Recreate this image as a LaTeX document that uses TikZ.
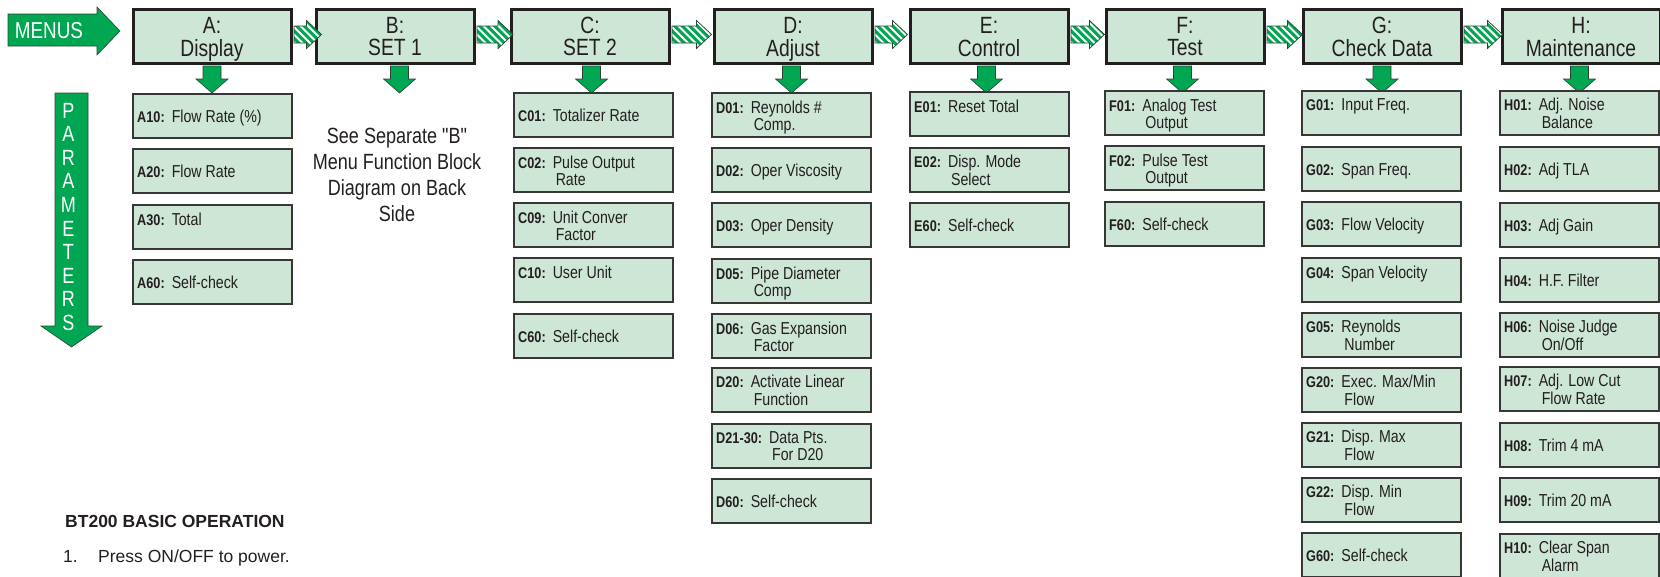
\documentclass[tikz,border=0pt]{standalone}
\usepackage{fontspec}
\setmainfont{Liberation Sans}
\newfontfamily\narrow{Liberation Sans}[FakeStretch=0.82]
\usetikzlibrary{calc}
\definecolor{boxfill}{RGB}{205,230,213}
\definecolor{agreen}{RGB}{0,166,81}
\definecolor{hline}{RGB}{35,31,32}
\definecolor{pline}{RGB}{55,55,55}
\definecolor{aline}{RGB}{40,70,50}
\tikzset{
  hbox/.style={draw=hline, line width=3pt, fill=boxfill, anchor=north west,
    minimum width=158pt, minimum height=54pt, inner sep=0pt},
  htext/.style={anchor=base, inner sep=0pt, text=hline,
    font=\narrow\fontsize{23.5}{20}\selectfont},
  pbox/.style={draw=pline, line width=1.6pt, fill=boxfill, anchor=north west,
    minimum width=159.4pt, minimum height=44.4pt, inner sep=0pt},
  ptext/.style={anchor=west, inner sep=0pt, text=hline,
    font=\narrow\fontsize{17.3}{17}\selectfont},
  arrowfill/.style={fill=agreen, draw=aline, line width=0.6pt},
  stripe/.style={white, line width=2.1pt},
}
\newcommand{\codef}{\narrow\bfseries\fontsize{15.5}{17}\selectfont}
\newcommand{\nl}{\\\hspace*{3pt}}
\newcommand{\pb}[5]{%
  \node[pbox] (#1) at (#2,#3) {};
  \node[ptext] (#1t) at ([xshift=5pt,yshift=-3pt]#1.west)
    {{\codef #4}\hspace{7pt}\begin{tabular}[t]{@{}l@{}}#5\end{tabular}};%
}
\newcommand{\hb}[3]{%
  \node[hbox] (#1) at (#2+1.5,7.5) {};
  \node[htext] (#1t) at ([yshift=-25.5pt]#1.north)
    {\begin{tabular}[t]{@{}c@{}}#1:\\#3\end{tabular}};%
}
\newcommand{\sarpath}[3]{([xshift=1.5pt,yshift=10pt]#1.east)
  -- ([xshift=#3pt-15pt,yshift=10pt]#2.west)
  -- ([xshift=#3pt-15pt,yshift=15.5pt]#2.west)
  -- ([xshift=#3pt,yshift=1.5pt]#2.west)
  -- ([xshift=#3pt-15pt,yshift=-12.5pt]#2.west)
  -- ([xshift=#3pt-15pt,yshift=-7pt]#2.west)
  -- ([xshift=1.5pt,yshift=-7pt]#1.east) -- cycle}
\newcommand{\sarrow}[3]{%
  \begin{scope}
    \clip \sarpath{#1}{#2}{#3};
    \fill[agreen] ([xshift=-5pt,yshift=20pt]#1.east) rectangle ([xshift=20pt,yshift=-20pt]#2.west);
    \foreach \k in {-6,...,9}
      \draw[stripe] ([xshift=\k*7.5pt,yshift=18pt]#1.east) -- ++(40,40);
  \end{scope}
  \draw[aline, line width=0.7pt] \sarpath{#1}{#2}{#3};%
}
\newcommand{\darrow}[2]{%
  \draw[arrowfill] ([xshift=#2pt-9pt,yshift=-1.5pt]#1.south)
    -- ([xshift=#2pt-9pt,yshift=-14.5pt]#1.south)
    -- ([xshift=#2pt-16pt,yshift=-14.5pt]#1.south)
    -- ([xshift=#2pt,yshift=-28.5pt]#1.south)
    -- ([xshift=#2pt+16pt,yshift=-14.5pt]#1.south)
    -- ([xshift=#2pt+9pt,yshift=-14.5pt]#1.south)
    -- ([xshift=#2pt+9pt,yshift=-1.5pt]#1.south) -- cycle;%
}
\begin{document}
\begin{tikzpicture}[x=1pt,y=-1pt]
\useasboundingbox (0,0) rectangle (1660,576);
% MENUS arrow
\draw[arrowfill] (8,14) -- (97,14) -- (97,7) -- (120,31) -- (97,55) -- (97,46) -- (8,46) -- cycle;
\node[inner sep=0pt, text=white, font=\narrow\fontsize{23}{23}\selectfont] (menus) at (49,31) {MENUS};
% PARAMETERS arrow
\draw[arrowfill] (55,93) -- (88,93) -- (88,326) -- (102,326) -- (71.5,347) -- (41,326) -- (55,326) -- cycle;
\node[anchor=base, inner sep=0pt, text=white, font=\narrow\fontsize{22}{23.6}\selectfont] (params) at (68.5,118)
  {\begin{tabular}[t]{@{}c@{}}P\\A\\R\\A\\M\\E\\T\\E\\R\\S\end{tabular}};
% header boxes
\hb{A}{130}{Display}
\hb{B}{313}{SET 1}
\hb{C}{508}{SET 2}
\hb{D}{711}{Adjust}
\hb{E}{907}{Control}
\hb{F}{1103}{Test}
\hb{G}{1300}{Check Data}
\hb{H}{1499}{Maintenance}
% striped arrows
\sarrow{A}{B}{7}
\sarrow{B}{C}{3.5}
\sarrow{C}{D}{-1}
\sarrow{D}{E}{-1}
\sarrow{E}{F}{0}
\sarrow{F}{G}{1}
\sarrow{G}{H}{2}
% down arrows
\darrow{A}{0}
\darrow{B}{4.5}
\darrow{C}{1.5}
\darrow{D}{-1.5}
\darrow{E}{-2.5}
\darrow{F}{-2.5}
\darrow{G}{0}
\darrow{H}{-1.5}
% A column
\pb{A10}{132}{93}{A10:}{Flow Rate (\%)}
\pb{A20}{132}{148}{A20:}{Flow Rate}
\pb{A30}{132}{204}{A30:}{Total\\ \mbox{}}
\pb{A60}{132}{259}{A60:}{Self-check}
% B note
\node[anchor=base, inner sep=0pt, text=hline, font=\narrow\fontsize{22}{26.2}\selectfont] (bnote) at (397,143)
  {\begin{tabular}[t]{@{}c@{}}See Separate "B"\\Menu Function Block\\Diagram on Back\\Side\end{tabular}};
% C column
\pb{C01}{513}{92}{C01:}{Totalizer Rate}
\pb{C02}{513}{147}{C02:}{Pulse Output\nl Rate}
\pb{C09}{513}{202}{C09:}{Unit Conver\nl Factor}
\pb{C10}{513}{257}{C10:}{User Unit\\ \mbox{}}
\pb{C60}{513}{313}{C60:}{Self-check}
% D column
\pb{D01}{711}{92}{D01:}{Reynolds \#\nl Comp.}
\pb{D02}{711}{147}{D02:}{Oper Viscosity}
\pb{D03}{711}{202}{D03:}{Oper Density}
\pb{D05}{711}{258}{D05:}{Pipe Diameter\nl Comp}
\pb{D06}{711}{313}{D06:}{Gas Expansion\nl Factor}
\pb{D20}{711}{367}{D20:}{Activate Linear\nl Function}
\pb{D21}{711}{423}{D21-30:}{Data Pts.\nl For D20}
\pb{D60}{711}{478}{D60:}{Self-check}
% E column
\pb{E01}{909}{91}{E01:}{Reset Total\\ \mbox{}}
\pb{E02}{909}{147}{E02:}{Disp. Mode\nl Select}
\pb{E60}{909}{202}{E60:}{Self-check}
% F column
\pb{F01}{1104}{90}{F01:}{Analog Test\nl Output}
\pb{F02}{1104}{145}{F02:}{Pulse Test\nl Output}
\pb{F60}{1104}{201}{F60:}{Self-check}
% G column
\pb{G01}{1301}{90}{G01:}{Input Freq.\\ \mbox{}}
\pb{G02}{1301}{146}{G02:}{Span Freq.}
\pb{G03}{1301}{201}{G03:}{Flow Velocity}
\pb{G04}{1301}{257}{G04:}{Span Velocity\\ \mbox{}}
\pb{G05}{1301}{312}{G05:}{Reynolds\nl Number}
\pb{G20}{1301}{367}{G20:}{Exec. Max/Min\nl Flow}
\pb{G21}{1301}{422}{G21:}{Disp. Max\nl Flow}
\pb{G22}{1301}{477}{G22:}{Disp. Min\nl Flow}
\pb{G60}{1301}{532}{G60:}{Self-check}
% H column
\pb{H01}{1499}{90}{H01:}{Adj. Noise\nl Balance}
\pb{H02}{1499}{146}{H02:}{Adj TLA}
\pb{H03}{1499}{202}{H03:}{Adj Gain}
\pb{H04}{1499}{257}{H04:}{H.F. Filter}
\pb{H06}{1499}{312}{H06:}{Noise Judge\nl On/Off}
\pb{H07}{1499}{366}{H07:}{Adj. Low Cut\nl Flow Rate}
\pb{H08}{1499}{422}{H08:}{Trim 4 mA}
\pb{H09}{1499}{477}{H09:}{Trim 20 mA}
\pb{H10}{1499}{533}{H10:}{Clear Span\nl Alarm}
% bottom text
\node[anchor=base west, inner sep=0pt, text=hline, font=\bfseries\fontsize{17.5}{20}\selectfont] (title) at (65,527) {BT200 BASIC OPERATION};
\node[anchor=base west, inner sep=0pt, text=hline, font=\fontsize{17.5}{20}\selectfont] (step1) at (63,562) {1.};
\node[anchor=base west, inner sep=0pt, text=hline, font=\fontsize{17.5}{20}\selectfont] (step1t) at (98,562) {Press ON/OFF to power.};
\end{tikzpicture}
\end{document}
